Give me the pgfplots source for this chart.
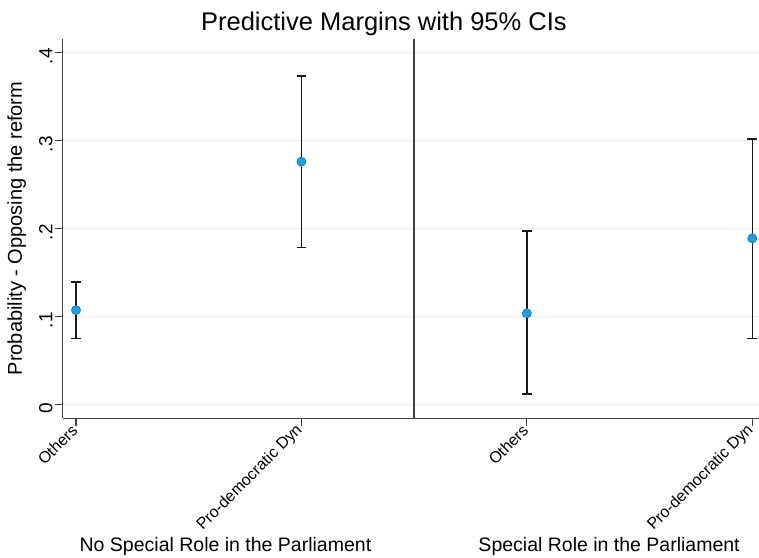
\documentclass[border=0pt]{standalone}
\usepackage{pgfplots}
\pgfplotsset{compat=1.18}
\usepackage{fontspec}
\setmainfont{Liberation Sans}
\definecolor{gridc}{HTML}{E6F0F3}
\definecolor{axc}{HTML}{404040}
\definecolor{mkfill}{HTML}{1E9FE0}
\definecolor{mkedge}{HTML}{15689A}
\begin{document}
\begin{tikzpicture}
\path[use as bounding box] (0pt,0pt) rectangle (759pt,557pt);
\begin{axis}[
  at={(62.7pt,138.7pt)}, anchor=south west,
  scale only axis, width=696.3pt, height=379pt,
  xmin=-0.059, xmax=3.030, ymin=-0.0159, ymax=0.4148,
  axis x line=bottom, axis y line=left,
  axis line style={-, line width=1.2pt, color=axc},
  tick style={line width=1.2pt, color=axc},
  tick align=outside, major tick length=8pt,
  xtick={0,1,2,3},
  xticklabels={Others, Pro-democratic Dyn, Others, Pro-democratic Dyn},
  xticklabel style={rotate=45, anchor=east, font=\fontsize{16}{19}\selectfont, inner sep=2pt},
  ytick={0,0.1,0.2,0.3,0.4},
  yticklabels={0,.1,.2,.3,.4},
  yticklabel style={rotate=90, anchor=south, font=\fontsize{19}{22}\selectfont, inner sep=2pt, xshift=-4pt},
  /pgf/number format/assume math mode=true,
  ymajorgrids, grid style={color=gridc, line width=1pt},
  clip=false,
]
\addplot[mark=none, line width=1.6pt, color=axc] coordinates {(1.5,-0.0159) (1.5,0.4148)};
\addplot[only marks, mark=none, black, line width=1.5pt,
  error bars/.cd, y dir=both, y explicit,
  error bar style={line width=1.5pt, color=black!90},
  error mark options={rotate=90, mark size=4.8pt, line width=1.5pt, black!90}]
  coordinates {
  (0,0.107) += (0,0.032) -= (0,0.032)
  (1,0.2757) += (0,0.0973) -= (0,0.0977)
  (2,0.1034) += (0,0.0936) -= (0,0.0917)
  (3,0.1886) += (0,0.1129) -= (0,0.1136)
  };
\addplot[only marks, mark=*, mark size=4.6pt, mark options={fill=mkfill, draw=mkedge, line width=0.5pt}]
  coordinates {(0,0.107) (1,0.2757) (2,0.1034) (3,0.1886)};
\node[anchor=base, font=\fontsize{25.5}{30}\selectfont] at (axis cs:1.366,0.4253) {Predictive Margins with 95\% CIs};
\node[anchor=base, rotate=90, font=\fontsize{20}{24}\selectfont] at (axis cs:-0.2396,0.1998) {Probability - Opposing the reform};
\node[anchor=base, font=\fontsize{19.5}{23}\selectfont] at (axis cs:0.663,-0.1675) {No Special Role in the Parliament};
\node[anchor=base, font=\fontsize{19.5}{23}\selectfont] at (axis cs:2.365,-0.1675) {Special Role in the Parliament};
\end{axis}
\end{tikzpicture}
\end{document}
